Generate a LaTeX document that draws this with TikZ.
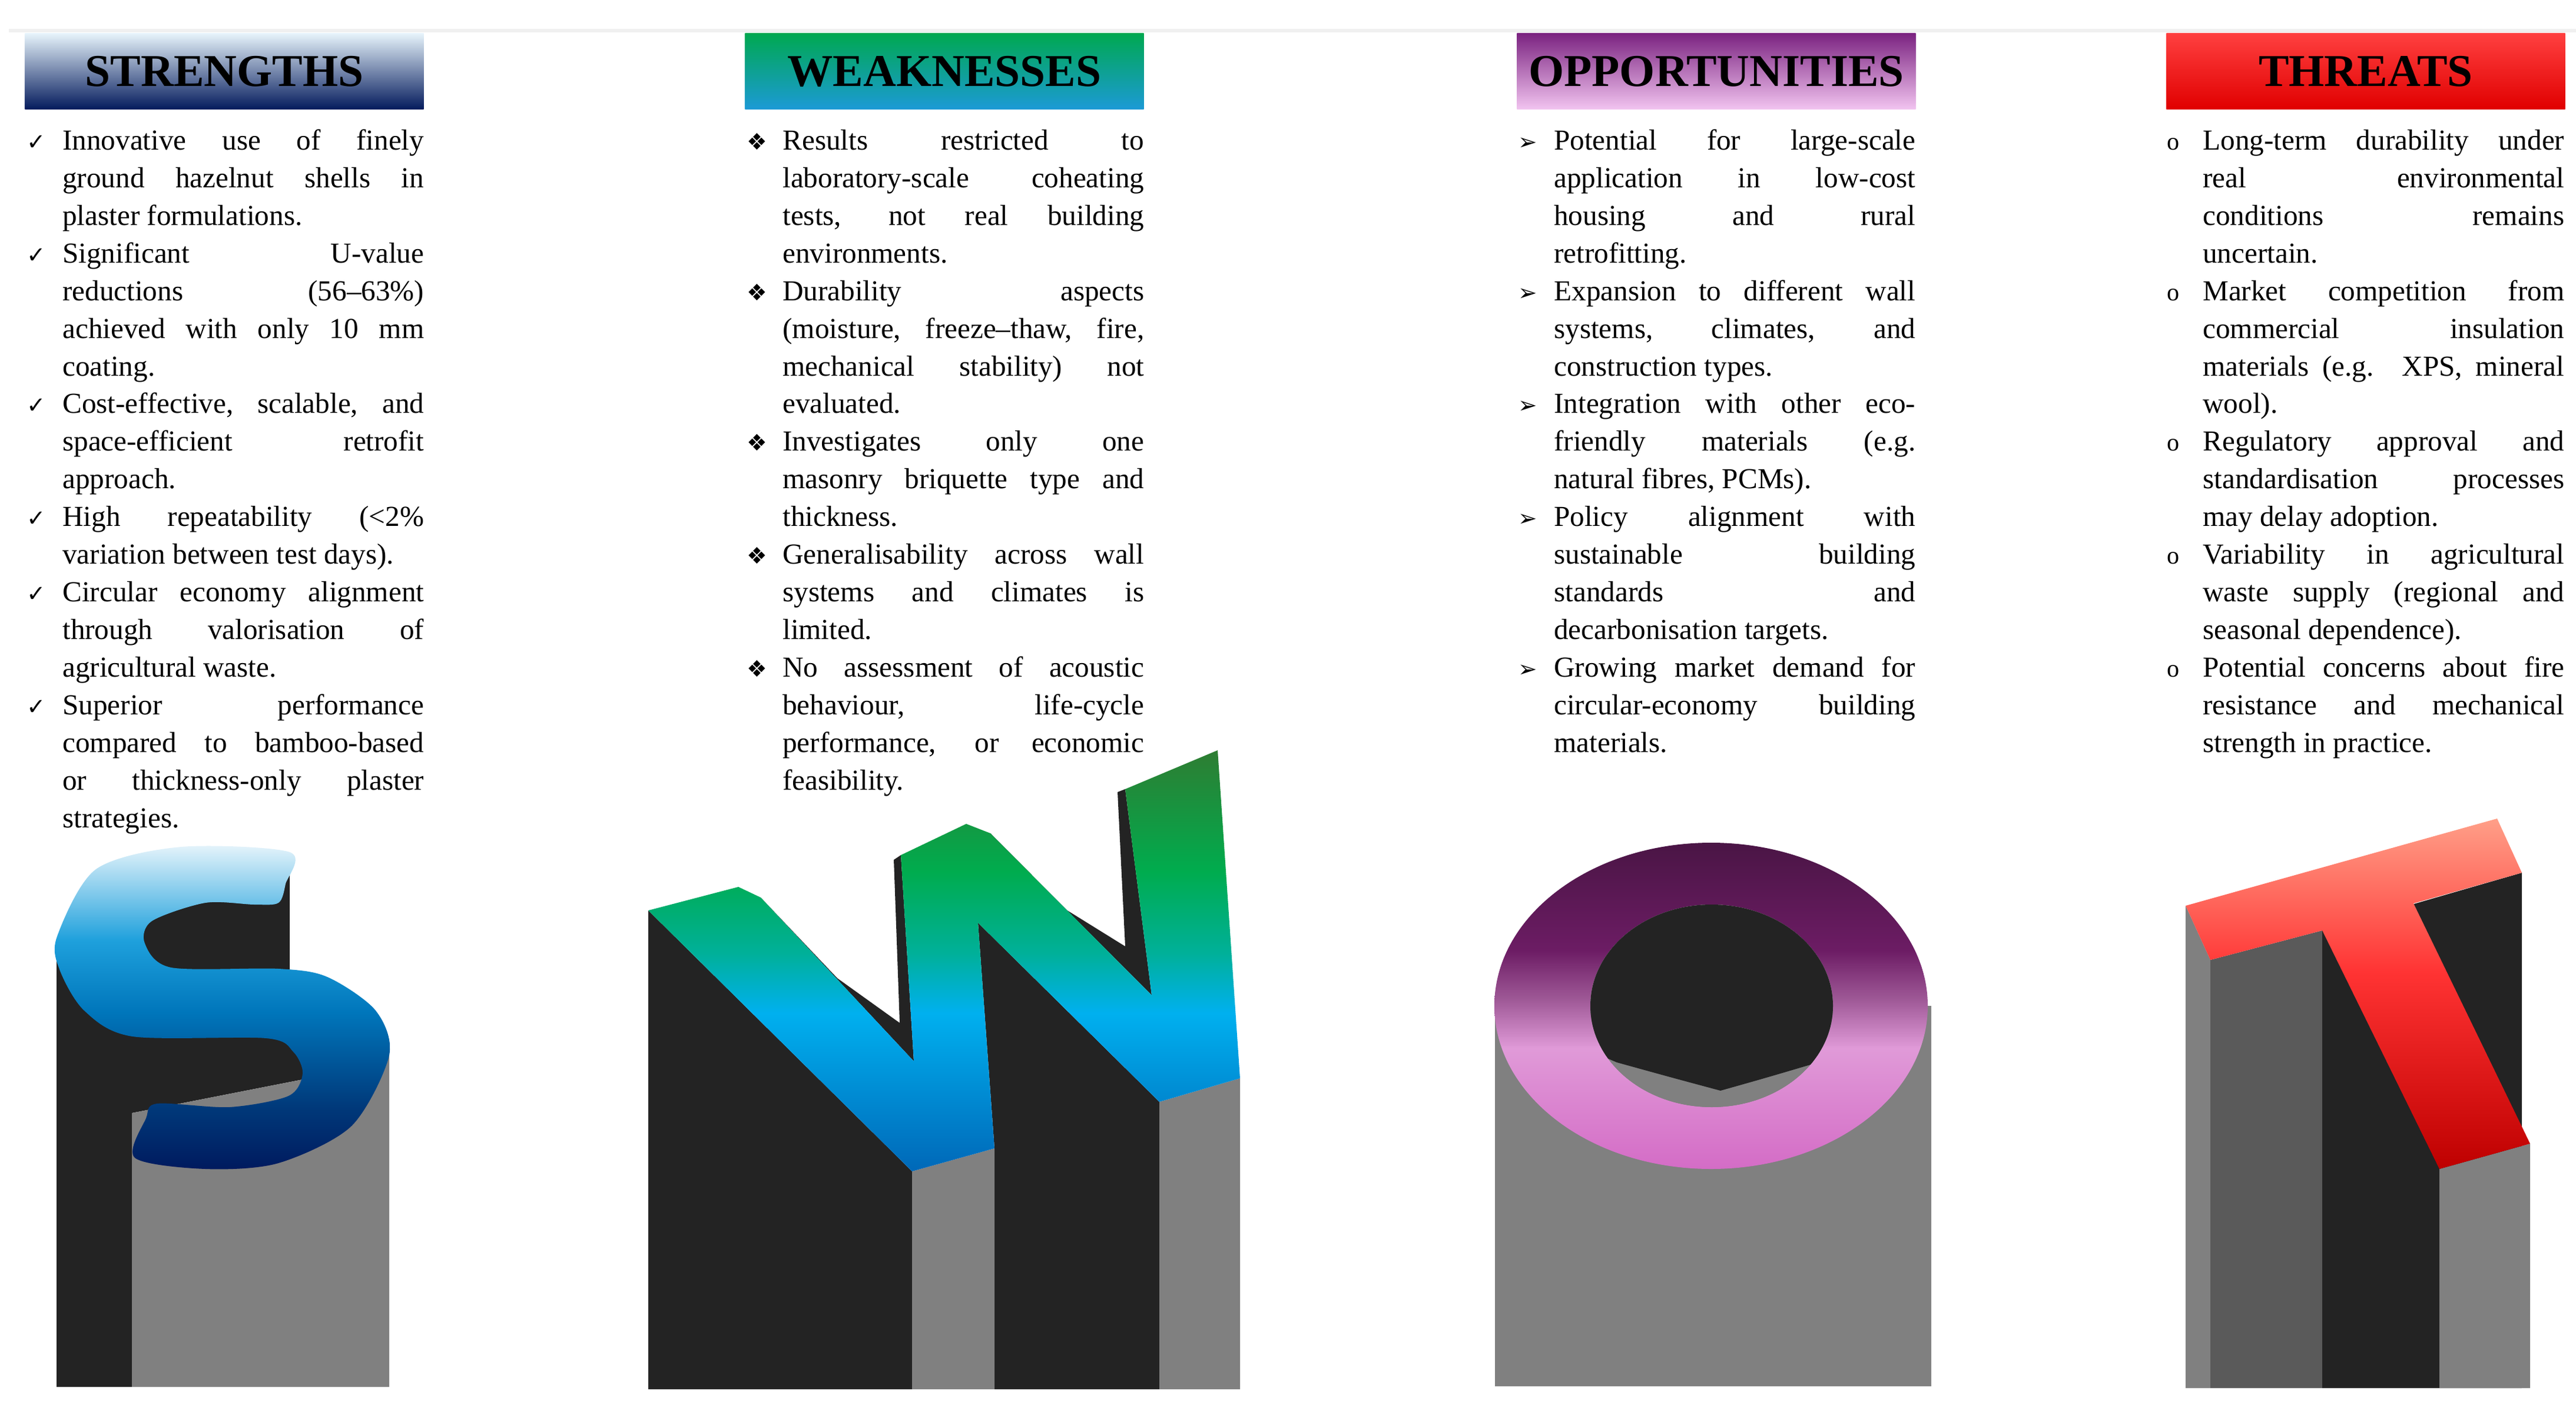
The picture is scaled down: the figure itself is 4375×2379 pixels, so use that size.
\documentclass[tikz,border=0pt]{standalone}
\usepackage{fontspec}
\setmainfont{Liberation Serif}
\newfontfamily\symf{DejaVu Sans}
\usetikzlibrary{calc}
\definecolor{dk}{HTML}{232323}
\definecolor{gr}{HTML}{808080}
\definecolor{gd}{HTML}{5A5A5A}
\definecolor{sa}{HTML}{001A5E}\definecolor{sb}{HTML}{00397A}\definecolor{sc}{HTML}{0076BB}\definecolor{sd}{HTML}{1EA0DC}\definecolor{se}{HTML}{E6F4FB}
\definecolor{wa}{HTML}{0068B8}\definecolor{wb}{HTML}{00B0EF}\definecolor{wc}{HTML}{00B09A}\definecolor{wd}{HTML}{00AC4E}\definecolor{we}{HTML}{2E7D32}
\definecolor{oa}{HTML}{D46CC6}\definecolor{ob}{HTML}{E09AD8}\definecolor{oc}{HTML}{A05A98}\definecolor{od}{HTML}{6C1C64}\definecolor{oe}{HTML}{4A1545}
\definecolor{ta}{HTML}{BE0000}\definecolor{tb}{HTML}{FF3333}\definecolor{tc}{HTML}{FF9F88}
\definecolor{hs1}{HTML}{E8F5FC}\definecolor{hs2}{HTML}{4BA8DA}\definecolor{hs3}{HTML}{031A5C}
\definecolor{hw1}{HTML}{00A850}\definecolor{hw2}{HTML}{00AE7A}\definecolor{hw3}{HTML}{1C9AD6}
\definecolor{ho1}{HTML}{7A2280}\definecolor{ho2}{HTML}{C070C8}\definecolor{ho3}{HTML}{F2C4F0}
\definecolor{ht1}{HTML}{FF4040}\definecolor{ht3}{HTML}{E00000}
\pgfdeclareverticalshading{Sshade}{100bp}{color(0bp)=(sa);color(25bp)=(sa);color(34.6bp)=(sb);color(49.2bp)=(sc);color(60.2bp)=(sd);color(75bp)=(se);color(100bp)=(se)}
\pgfdeclareverticalshading{Wshade}{100bp}{color(0bp)=(wa);color(25bp)=(wa);color(43.8bp)=(wb);color(50.8bp)=(wc);color(60.6bp)=(wd);color(75bp)=(we);color(100bp)=(we)}
\pgfdeclareverticalshading{Oshade}{100bp}{color(0bp)=(oa);color(25bp)=(oa);color(43.5bp)=(ob);color(50.8bp)=(oc);color(58.5bp)=(od);color(75bp)=(oe);color(100bp)=(oe)}
\pgfdeclareverticalshading{Tshade}{100bp}{color(0bp)=(ta);color(25bp)=(ta);color(53bp)=(tb);color(75bp)=(tc);color(100bp)=(tc)}
\newcommand\itm[2]{\par\hangindent=1.22cm\hangafter=1\noindent\makebox[1.22cm][l]{\strut#1}#2\par}
\newcommand\ck{{\symf\fontsize{22}{22}\selectfont ✓}}
\newcommand\dia{{\symf\fontsize{22}{22}\selectfont ❖}}
\newcommand\arr{{\symf\fontsize{22}{22}\selectfont ➢}}
\newcommand\cir{{\fontsize{24}{24}\selectfont o}}
\begin{document}
\begin{tikzpicture}[x=0.02cm,y=-0.02cm,
  col/.style={anchor=north west,inner sep=0pt,text width=13.5cm,align=justify,font=\fontsize{28}{36.4}\selectfont},
  head/.style={minimum width=13.55cm,minimum height=2.6cm,inner sep=0pt,font=\bfseries\fontsize{44}{44}\selectfont}]
\useasboundingbox[fill=white] (0,0) rectangle (4375,2379);
\draw[line width=3pt,color=black!6] (15,52) -- (4375,52);
% headers
\node[head,top color=hs1,middle color=hs2,bottom color=hs3] (hs) at (381,121) {STRENGTHS};
\node[head,top color=hw1,middle color=hw2,bottom color=hw3] (hw) at (1604,121) {WEAKNESSES};
\node[head,top color=ho1,middle color=ho2,bottom color=ho3] (ho) at (2915,121) {OPPORTUNITIES};
\node[head,top color=ht1,bottom color=ht3] (ht) at (4018,121) {THREATS};
% texts
\node[col] (ts) at (45,190) {%
\itm{\ck}{Innovative use of finely\linebreak ground hazelnut shells in\linebreak plaster formulations.}%
\itm{\ck}{Significant U-value\linebreak reductions (56–63\%)\linebreak achieved with only 10 mm\linebreak coating.}%
\itm{\ck}{Cost-effective, scalable, and\linebreak space-efficient retrofit\linebreak approach.}%
\itm{\ck}{High repeatability (<2\%\linebreak variation between test days).}%
\itm{\ck}{Circular economy alignment\linebreak through valorisation of\linebreak agricultural waste.}%
\itm{\ck}{Superior performance\linebreak compared to bamboo-based\linebreak or thickness-only plaster\linebreak strategies.}};
\node[col] (tw) at (1268,190) {%
\itm{\dia}{Results restricted to\linebreak laboratory-scale coheating\linebreak tests, not real building\linebreak environments.}%
\itm{\dia}{Durability aspects\linebreak (moisture, freeze–thaw, fire,\linebreak mechanical stability) not\linebreak evaluated.}%
\itm{\dia}{Investigates only one\linebreak masonry briquette type and\linebreak thickness.}%
\itm{\dia}{Generalisability across wall\linebreak systems and climates is\linebreak limited.}%
\itm{\dia}{No assessment of acoustic\linebreak behaviour, life-cycle\linebreak performance, or economic\linebreak feasibility.}};
\node[col] (to) at (2578,190) {%
\itm{\arr}{Potential for large-scale\linebreak application in low-cost\linebreak housing and rural\linebreak retrofitting.}%
\itm{\arr}{Expansion to different wall\linebreak systems, climates, and\linebreak construction types.}%
\itm{\arr}{Integration with other eco-\linebreak friendly materials (e.g.\linebreak natural fibres, PCMs).}%
\itm{\arr}{Policy alignment with\linebreak sustainable building\linebreak standards and\linebreak decarbonisation targets.}%
\itm{\arr}{Growing market demand for\linebreak circular-economy building\linebreak materials.}};
\node[col] (tt) at (3680,190) {%
\itm{\cir}{Long-term durability under\linebreak real environmental\linebreak conditions remains\linebreak uncertain.}%
\itm{\cir}{Market competition from\linebreak commercial insulation\linebreak materials (e.g. XPS, mineral\linebreak wool).}%
\itm{\cir}{Regulatory approval and\linebreak standardisation processes\linebreak may delay adoption.}%
\itm{\cir}{Variability in agricultural\linebreak waste supply (regional and\linebreak seasonal dependence).}%
\itm{\cir}{Potential concerns about fire\linebreak resistance and mechanical\linebreak strength in practice.}};
% ---- S ----
\fill[dk] (96,1600) -- (96,2355) -- (224,2355) -- (224,1890) -- (514,1833) -- (520,1700) -- (492,1646) -- (492,1455) -- (200,1500) -- cycle;
\fill[gr] (224,1890) -- (514,1833) -- (661,1790) -- (661,2355) -- (224,2355) -- cycle;
\shade[shading=Sshade] plot[smooth cycle,tension=0.5] coordinates {(492,1447) (308,1438) (163,1476) (97,1590) (101,1646) (143,1716) (225,1760) (452,1763) (498,1786) (514,1823) (490,1861) (390,1880) (267,1874) (248,1899) (229,1966) (349,1985) (473,1975) (597,1912) (661,1792) (638,1716) (556,1659) (473,1645) (291,1643) (246,1602) (258,1564) (349,1533) (432,1536) (473,1533) (485,1501)};
% ---- W ----
\fill[dk] (1101,1546) -- (1549,1989) -- (1549,2359) -- (1101,2359) -- cycle;
\fill[dk] (1661,1567) -- (1969,1871) -- (1969,2359) -- (1689,2359) -- (1689,1950) -- cycle;
\fill[gr] (1549,1989) -- (1689,1950) -- (1689,2359) -- (1549,2359) -- cycle;
\fill[gr] (1969,1871) -- (2106,1831) -- (2106,2359) -- (1969,2359) -- cycle;
\fill[dk] (1292,1524) -- (1422,1661) -- (1528,1737) -- (1518,1460) -- (1530,1452) -- (1552,1802) -- cycle;
\fill[dk] (1682,1415) -- (1737,1499) -- (1911,1607) -- (1898,1345) -- (1911,1340) -- (1956,1690) -- cycle;
\shade[shading=Wshade] (1101,1546) -- (1254,1506) -- (1292,1524) -- (1552,1802) -- (1530,1452) -- (1641,1399) -- (1682,1415) -- (1956,1690) -- (1911,1340) -- (2068,1274) -- (2106,1831) -- (1969,1871) -- (1661,1567) -- (1689,1950) -- (1549,1989) -- cycle;
% ---- O ----
\fill[gr] (2539,1708) rectangle (3280,2354);
\shade[shading=Oshade,even odd rule] (2906,1708) ellipse [x radius=368,y radius=277] (2907,1708) ellipse [x radius=206,y radius=172];
\fill[gr] (2907,1708) ellipse [x radius=206,y radius=172];
\begin{scope}
\clip (2907,1708) ellipse [x radius=206,y radius=172];
\fill[dk] (2690,1520) -- (3130,1520) -- (3130,1790) -- (3098,1801) .. controls (3000,1830) .. (2922,1852) .. controls (2840,1830) .. (2746,1804) -- (2690,1780) -- cycle;
\end{scope}
% ---- T ----
\fill[gr] (3712,1538) -- (3754,1630) -- (3754,2357) -- (3712,2357) -- cycle;
\fill[gd] (3754,1630) -- (3944,1580) -- (3944,2357) -- (3754,2357) -- cycle;
\fill[dk] (3944,1580) -- (4283,1482) -- (4283,2357) -- (3944,2357) -- cycle;
\fill[gr] (4143,1985) -- (4297,1942) -- (4297,2357) -- (4143,2357) -- cycle;
\shade[shading=Tshade] (3712,1538) -- (4241,1390) -- (4283,1482) -- (4099,1534) -- (4297,1942) -- (4143,1985) -- (3944,1580) -- (3754,1630) -- cycle;
\end{tikzpicture}
\end{document}
